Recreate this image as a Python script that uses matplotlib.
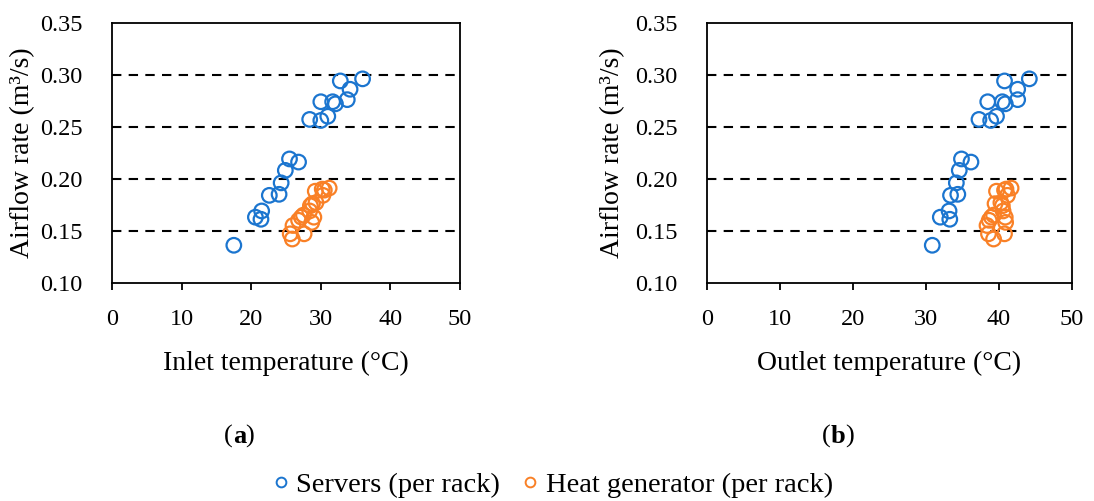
#!/usr/bin/env python3
"""
Airflow rate vs inlet / outlet temperature, servers and heat generator per rack
"""

import matplotlib
matplotlib.use('Agg')
import matplotlib.pyplot as plt
from matplotlib.lines import Line2D

plt.rcParams['font.family'] = ['Liberation Serif', 'DejaVu Serif']
plt.rcParams['font.size'] = 17

# Servers (per rack)
srv_flow = [0.136, 0.163, 0.169, 0.161, 0.184, 0.185, 0.196, 0.208, 0.219, 0.216,
            0.257, 0.256, 0.260, 0.274, 0.274, 0.272, 0.276, 0.294, 0.286, 0.296]
srv_inlet = [17.5, 20.6, 21.5, 21.4, 22.6, 24.0, 24.3, 24.9, 25.5, 26.8,
             28.4, 30.0, 31.0, 30.0, 31.7, 32.1, 33.8, 32.8, 34.2, 36.0]
srv_outlet = [30.9, 32.0, 33.2, 33.3, 33.4, 34.4, 34.2, 34.6, 34.9, 36.2,
              37.3, 38.9, 39.7, 38.5, 40.5, 40.9, 42.6, 40.8, 42.6, 44.2]

# Heat generator (per rack)
hg_flow = [0.142, 0.147, 0.147, 0.155, 0.158, 0.160, 0.163, 0.163, 0.165,
           0.169, 0.174, 0.176, 0.177, 0.184, 0.188, 0.190, 0.191, 0.189]
hg_inlet = [25.9, 25.6, 27.6, 26.0, 28.7, 26.8, 27.2, 29.0, 27.5,
            28.4, 28.5, 28.8, 29.3, 30.3, 29.2, 30.2, 31.2, 30.5]
hg_outlet = [39.3, 38.6, 40.8, 38.4, 40.95, 38.7, 39.0, 40.9, 39.3,
             40.6, 40.5, 39.5, 40.3, 41.2, 39.7, 41.0, 41.7, 40.8]

x_ticks = [0, 10, 20, 30, 40, 50]
y_ticks = [0.10, 0.15, 0.20, 0.25, 0.30, 0.35]
grid_levels = [0.15, 0.20, 0.25, 0.30]

SRV_COLOR = '#1B75CF'
HG_COLOR = '#F98026'


def draw_panel(ax, x_srv, x_hg, xlabel, ylabel_x):
    for g in grid_levels:
        ax.axhline(g, color='black', linestyle=(0, (4.5, 3.5)), linewidth=1.5, zorder=1)
    ax.scatter(x_srv, srv_flow, s=110, facecolors='none', edgecolors=SRV_COLOR,
               linewidths=1.6, zorder=3)
    ax.scatter(x_hg, hg_flow, s=110, facecolors='none', edgecolors=HG_COLOR,
               linewidths=1.6, zorder=3)
    ax.set_xlim(0, 50)
    ax.set_ylim(0.10, 0.35)
    ax.set_xticks(x_ticks)
    ax.set_yticks(y_ticks)
    ax.set_yticklabels([f'{v:.2f}' for v in y_ticks])
    ax.tick_params(axis='x', direction='out', length=5, width=1.3, pad=14, labelsize=17.5)
    ax.tick_params(axis='y', length=0, pad=21, labelsize=17.5)
    ax.set_xlabel(xlabel, fontsize=20, labelpad=15)
    ax.set_ylabel('Airflow rate (m³/s)', fontsize=20)
    ax.yaxis.set_label_coords(ylabel_x, 0.5)
    for spine in ax.spines.values():
        spine.set_linewidth(1.3)
        spine.set_color('black')


fig = plt.figure(figsize=(10.94, 5.01), dpi=100)
ax_a = fig.add_axes([0.1024, 0.4357, 0.3181, 0.519])
ax_b = fig.add_axes([0.6460, 0.4357, 0.3336, 0.519])

draw_panel(ax_a, srv_inlet, hg_inlet, 'Inlet temperature (°C)', -0.222)
draw_panel(ax_b, srv_outlet, hg_outlet, 'Outlet temperature (°C)', -0.224)

fig.text(0.2130, 0.128, '(', fontsize=19, ha='right', va='center')
fig.text(0.2130, 0.128, 'a', fontsize=19, fontweight='bold', ha='left', va='center')
fig.text(0.2245, 0.128, ')', fontsize=19, ha='left', va='center')
fig.text(0.7590, 0.128, '(', fontsize=19, ha='right', va='center')
fig.text(0.7590, 0.128, 'b', fontsize=19, fontweight='bold', ha='left', va='center')
fig.text(0.7725, 0.128, ')', fontsize=19, ha='left', va='center')

handles = [
    Line2D([], [], marker='o', linestyle='none', markerfacecolor='none',
           markeredgecolor=SRV_COLOR, markeredgewidth=1.4, markersize=7,
           label='Servers (per rack)'),
    Line2D([], [], marker='o', linestyle='none', markerfacecolor='none',
           markeredgecolor=HG_COLOR, markeredgewidth=1.4, markersize=7,
           label='Heat generator (per rack)'),
]
fig.legend(handles=handles, loc='center', bbox_to_anchor=(0.503, 0.032), ncol=2,
           frameon=False, fontsize=20.5, handletextpad=0.1, columnspacing=0.6,
           handlelength=0.9)

fig.savefig('out.png', dpi=100, facecolor='white')
plt.close(fig)
